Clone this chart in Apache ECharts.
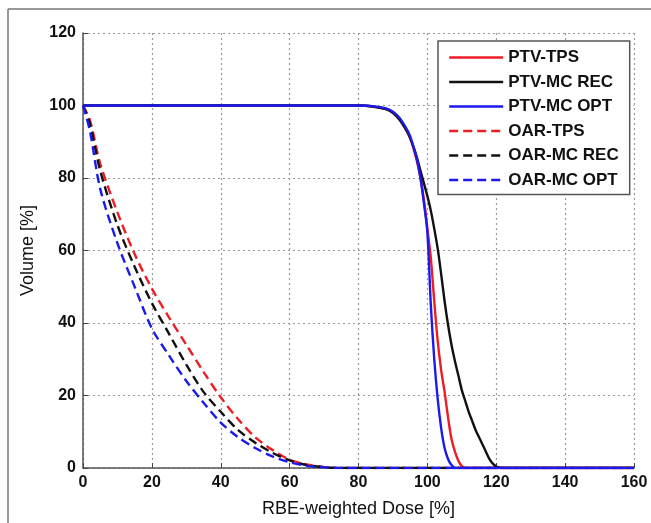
<!DOCTYPE html>
<html>
<head>
<meta charset="utf-8">
<script src="https://cdn.jsdelivr.net/npm/echarts@6/dist/echarts.min.js"></script>
<style>
html,body{margin:0;padding:0;background:#fff;}
#c{width:651px;height:523px;}
</style>
</head>
<body>
<div id="c"></div>
<script>
// ---- Data ----
const xTicks = [0, 20, 40, 60, 80, 100, 120, 140, 160];
const yTicks = [0, 20, 40, 60, 80, 100, 120];

const ptvDose = [0, 80, 85, 88, 90, 92, 94, 95, 96, 97, 98, 99, 100, 101, 102, 103, 104, 105, 106, 107, 108, 109, 110, 111, 112, 113, 114, 115, 116, 117, 118, 119, 120, 121, 123, 160];
const ptvTps   = [100, 100, 99.6, 99, 98, 96, 93, 91, 88, 84.5, 80, 74, 66, 58, 46, 35, 27, 21, 14, 8, 4.5, 2, 0.5, 0, 0, 0, 0, 0, 0, 0, 0, 0, 0, 0, 0, 0];
const ptvMcRec = [100, 100, 99.6, 99, 98, 96, 93, 91, 88.5, 85.5, 82, 78.5, 75, 71, 66, 60.5, 53.5, 46, 39.5, 34, 29.5, 25.5, 21.5, 18.5, 15.5, 13, 10.5, 8.5, 6.5, 4.5, 2.5, 1.2, 0.4, 0.1, 0, 0];
const ptvMcOpt = [100, 100, 99.7, 99.2, 98.3, 96.5, 93.5, 91.5, 88.5, 85, 80, 73, 65, 45, 30, 19, 11, 5.5, 2.5, 0.8, 0, 0, 0, 0, 0, 0, 0, 0, 0, 0, 0, 0, 0, 0, 0, 0];

const oarDose  = [0, 2, 5, 10, 15, 20, 25, 30, 35, 40, 45, 50, 55, 60, 65, 70, 75, 160];
const oarTps   = [100, 96, 84, 70.5, 59, 49.5, 41.5, 34, 26.5, 19.5, 13.5, 8.5, 5, 2.3, 1, 0.3, 0, 0];
const oarMcRec = [100, 95, 82, 67, 55.5, 45.5, 37, 28.5, 21, 15.5, 10.5, 7, 4.2, 2.1, 0.8, 0.2, 0, 0];
const oarMcOpt = [100, 93, 77, 62, 50, 38.5, 31, 24, 18, 12.5, 8.5, 5.5, 3.2, 1.6, 0.6, 0.2, 0, 0];

const seriesNames = ['PTV-TPS', 'PTV-MC REC', 'PTV-MC OPT', 'OAR-TPS', 'OAR-MC REC', 'OAR-MC OPT'];
const seriesColors = ['#ee1c24', '#111111', '#1a1aee', '#ee1c24', '#111111', '#1a1aee'];

function pairs(xs, ys) { return xs.map((x, i) => [x, ys[i]]); }

const seriesData = [
  pairs(ptvDose, ptvTps),
  pairs(ptvDose, ptvMcRec),
  pairs(ptvDose, ptvMcOpt),
  pairs(oarDose, oarTps),
  pairs(oarDose, oarMcRec),
  pairs(oarDose, oarMcOpt)
];

const FONT = "'Liberation Sans', Arial, sans-serif";
const zOrder = [4, 5, 6, 1, 2, 3];

const chart = echarts.init(document.getElementById('c'), null, { renderer: 'canvas' });

const series = seriesData.map((d, i) => ({
  name: seriesNames[i],
  type: 'line',
  data: d,
  symbol: 'none',
  smooth: 0.3,
  z: zOrder[i],
  lineStyle: {
    color: seriesColors[i],
    width: 2.4,
    type: i < 3 ? 'solid' : [9, 5]
  },
  itemStyle: { color: seriesColors[i] },
  animation: false
}));

chart.setOption({
  backgroundColor: '#ffffff',
  animation: false,
  textStyle: { fontFamily: FONT },
  grid: { left: 83, top: 33, right: 17, bottom: 55, containLabel: false },
  xAxis: {
    type: 'value',
    min: 0, max: 160, interval: 20,
    name: 'RBE-weighted Dose [%]',
    nameLocation: 'middle',
    nameGap: 32,
    nameTextStyle: { fontSize: 18, color: '#111', fontFamily: FONT },
    axisLine: { show: true, lineStyle: { color: '#555', width: 1.5 } },
    axisTick: { show: true, inside: true, length: 5, lineStyle: { color: '#444' } },
    axisLabel: { fontSize: 16, fontWeight: 'bold', color: '#111', margin: 7, fontFamily: FONT,
      formatter: v => xTicks.includes(v) ? String(v) : '' },
    splitLine: { show: true, lineStyle: { color: '#9a9a9a', width: 1.2, type: [2, 3] } }
  },
  yAxis: {
    type: 'value',
    min: 0, max: 120, interval: 20,
    name: 'Volume [%]',
    nameLocation: 'middle',
    nameGap: 46,
    nameTextStyle: { fontSize: 18, color: '#111', fontFamily: FONT },
    axisLine: { show: true, lineStyle: { color: '#555', width: 1.5 } },
    axisTick: { show: true, inside: true, length: 5, lineStyle: { color: '#444' } },
    axisLabel: { fontSize: 16, fontWeight: 'bold', color: '#111', margin: 7, fontFamily: FONT,
      formatter: v => yTicks.includes(v) ? String(v) : '' },
    splitLine: { show: true, lineStyle: { color: '#9a9a9a', width: 1.2, type: [2, 3] } }
  },
  legend: {
    show: true,
    orient: 'vertical',
    left: 438,
    top: 41,
    padding: [8, 11, 6, 10],
    itemWidth: 54,
    itemHeight: 14,
    itemGap: 7.5,
    backgroundColor: '#ffffff',
    borderColor: '#555',
    borderWidth: 1.5,
    itemStyle: { opacity: 0 },
    lineStyle: { width: 2.4 },
    textStyle: { fontSize: 17, fontWeight: 'bold', color: '#111', fontFamily: FONT },
    data: seriesNames.map(n => ({ name: n }))
  },
  graphic: [
    { type: 'line', shape: { x1: 8, y1: 9, x2: 8, y2: 523 }, style: { stroke: '#777', lineWidth: 1.5 }, silent: true },
    { type: 'line', shape: { x1: 8, y1: 9, x2: 651, y2: 9 }, style: { stroke: '#777', lineWidth: 1.5 }, silent: true }
  ],
  series: series
});
</script>
</body>
</html>
